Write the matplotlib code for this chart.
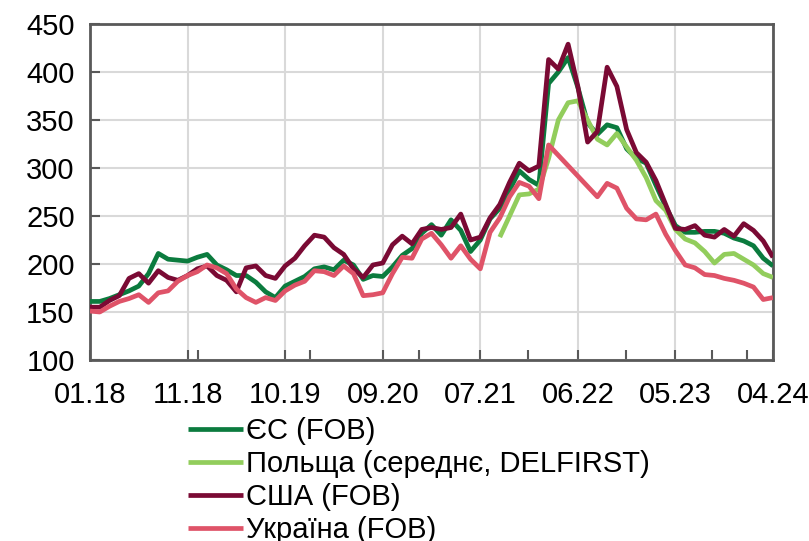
import numpy as np
import matplotlib
matplotlib.use("Agg")
import matplotlib.pyplot as plt
from matplotlib.ticker import FixedLocator

plt.rcParams["font.family"] = ["Liberation Sans", "DejaVu Sans"]

nan = np.nan

# Period labels shown on the horizontal axis (every 10th observation)
tick_labels = ["01.18", "11.18", "10.19", "09.20", "07.21", "06.22", "05.23", "04.24"]
label_step = 10
# Year boundaries marked with extra ticks (in observation units)
year_marks = [11.1, 22.5, 33.7, 44.9, 54.9, 63.7, 67.3]

series_names = ["ЄС (FOB)", "Польща (середнє, DELFIRST)", "США (FOB)", "Україна (FOB)"]
series_colors = ["#0B7B3E", "#92CD5C", "#7A0A34", "#DF5368"]

eu = [161, 161, 164, 168, 172, 177, 190, 211, 205, 204,
      203, 207, 210, 199, 194, 188, 188, 181, 171, 165,
      177, 182, 187, 195, 197, 194, 204, 199, 184, 188,
      187, 197, 209, 216, 232, 241, 230, 246, 235, 213,
      225, 247, 258, 277, 297, 288, 282, 388, 400, 415,
      384, 347, 335, 345, 342, 320, 310, 305, 282, 260,
      240, 233, 233, 234, 234, 232, 227, 224, 219, 206, 198]

poland = [nan] * 42 + [
      228, 250, 272, 273, 278, 310, 350, 368,
      370, 350, 330, 324, 336, 322, 308, 290, 266, 256,
      236, 226, 222, 213, 201, 210, 211, 205, 199, 190, 186]

usa = [155, 155, 162, 167, 185, 190, 180, 193, 186, 183,
       188, 195, 198, 188, 183, 171, 196, 198, 188, 185,
       198, 206, 219, 230, 228, 217, 210, 195, 186, 199,
       201, 220, 229, 221, 236, 238, 236, 238, 252, 225,
       228, 248, 262, 285, 305, 297, 302, 413, 403, 429,
       385, 327, 338, 405, 385, 340, 316, 306, 287, 262,
       237, 236, 240, 230, 228, 236, 229, 242, 235, 224, 207]

ukraine = [151, 150, 156, 161, 164, 168, 160, 170, 172, 182,
           188, 192, 199, 196, 190, 174, 165, 160, 165, 162,
           172, 178, 182, 193, 192, 188, 198, 190, 167, 168,
           170, 190, 207, 206, 226, 232, 220, 206, 219, 205,
           195, 233, 248, 270, 285, 281, 268, 324, nan, nan,
           nan, nan, 270, 284, 279, 258, 247, 246, 252, 231,
           214, 199, 196, 189, 188, 185, 183, 180, 176, 163, 165]

fig = plt.figure(figsize=(8.09, 5.41), dpi=100)
ax = fig.add_axes([90 / 809, 1 - 360 / 541, (773 - 90) / 809, (360 - 24) / 541])

x = np.arange(len(eu))
for vals, color, name in zip([eu, poland, usa, ukraine], series_colors, series_names):
    v = np.asarray(vals, dtype=float)
    ok = ~np.isnan(v)
    ax.plot(x[ok], v[ok], color=color, lw=3.4, label=name,
            solid_joinstyle="round", solid_capstyle="butt", zorder=3)

ax.set_xlim(0, len(eu) - 1)
ax.set_ylim(100, 450)
ax.set_yticks(np.arange(100, 451, 50))
ax.set_xticks(np.arange(0, len(eu), label_step))
ax.set_xticklabels(tick_labels)
ax.xaxis.set_minor_locator(FixedLocator(year_marks))

axis_grey = "#595959"
for s in ax.spines.values():
    s.set_color(axis_grey)
    s.set_linewidth(2.0)
ax.grid(True, which="major", color="#D9D9D9", lw=1.5, zorder=0)
ax.set_axisbelow(True)
ax.tick_params(axis="both", which="both", direction="in", color=axis_grey,
               width=1.5, length=7, labelsize=21, labelcolor="black")
ax.tick_params(axis="x", which="major", pad=15)
ax.tick_params(axis="y", pad=11)

fig.legend(loc="upper left", bbox_to_anchor=(188 / 809, 1 - 417 / 541),
           frameon=False, fontsize=21, handlelength=1.9, handletextpad=0.08,
           labelspacing=0.17, borderpad=0, borderaxespad=0)

fig.savefig("out.png", dpi=100)
